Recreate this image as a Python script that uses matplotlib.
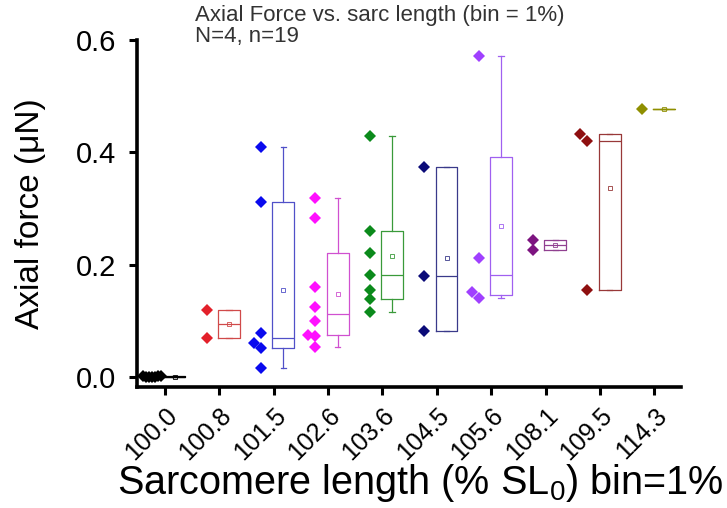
import numpy as np
import matplotlib
matplotlib.use("Agg")
import matplotlib.pyplot as plt

# =========================
# DATA
# =========================

categories = ["100.0", "100.8", "101.5", "102.6", "103.6",
              "104.5", "105.6", "108.1", "109.5", "114.3"]

force_100_0 = [0.0, 0.0, 0.001, 0.0, 0.002, 0.0, 0.001]
force_100_8 = [0.119, 0.069]
force_101_5 = [0.410, 0.311, 0.078, 0.060, 0.052, 0.016]
force_102_6 = [0.318, 0.283, 0.160, 0.125, 0.100, 0.075, 0.073, 0.053]
force_103_6 = [0.429, 0.260, 0.221, 0.182, 0.155, 0.139, 0.116]
force_104_5 = [0.374, 0.179, 0.081]
force_105_6 = [0.571, 0.212, 0.151, 0.141]
force_108_1 = [0.244, 0.226]
force_109_5 = [0.432, 0.420, 0.155]
force_114_3 = [0.477]

groups = [force_100_0, force_100_8, force_101_5, force_102_6, force_103_6,
          force_104_5, force_105_6, force_108_1, force_109_5, force_114_3]

point_colors = ["#000000", "#e3202a", "#0a0aee", "#ff10ff", "#0b8a1b",
                "#0b0b78", "#a040ff", "#7d1480", "#8e0f10", "#8f8f00"]
box_colors = ["#000000", "#d04a4a", "#5050c8", "#d050d0", "#3a9a3a",
              "#3a3a8a", "#a060f0", "#904090", "#983838", "#8f8f00"]

# =========================
# HELPERS
# =========================

def half_median_stats(vals):
    # median, hinges = medians of the lower / upper halves (median excluded)
    v = np.sort(np.asarray(vals, dtype=float))
    n = len(v)
    med = np.median(v)
    if n == 1:
        q1 = q3 = v[0]
    else:
        h = n // 2
        q1 = np.median(v[:h])
        q3 = np.median(v[n - h:])
    return dict(med=med, q1=q1, q3=q3, whislo=v[0], whishi=v[-1],
                mean=v.mean(), fliers=[])


def swarm_offsets(vals, step=0.13, ythr=0.015, max_half=0.17):
    order = np.argsort(vals)
    placed = []
    offs = np.zeros(len(vals))
    cand = [0.0]
    for k in range(1, 12):
        cand += [-k * step, k * step]
    for idx in order:
        y = vals[idx]
        for c in cand:
            if all(abs(c - px) >= step * 0.99 or abs(y - py) >= ythr
                   for px, py in placed):
                offs[idx] = c
                placed.append((c, y))
                break
    m = np.abs(offs).max()
    if m > max_half:
        offs = offs * max_half / m
    return offs


# =========================
# FIGURE
# =========================

plt.rcParams["font.family"] = ["Liberation Sans", "DejaVu Sans"]

fig = plt.figure(figsize=(7.27, 5.08), dpi=100)
ax = fig.add_axes([0.1884, 0.2382, 0.7483, 0.6831])

x_pos = np.arange(len(categories))
pt_shift = -0.23
box_shift = 0.18

for i, vals in enumerate(groups):
    vals = np.asarray(vals, dtype=float)
    offs = swarm_offsets(vals)
    ax.plot(x_pos[i] + pt_shift + offs, vals, linestyle="none", marker="D",
            markersize=6.5, color=point_colors[i], markeredgewidth=0,
            zorder=3)

    st = half_median_stats(vals)
    c = box_colors[i]
    ax.bxp([st], positions=[x_pos[i] + box_shift], widths=0.4,
           showmeans=True, showfliers=False, capwidths=0.1,
           boxprops=dict(color=c, linewidth=0.9),
           medianprops=dict(color=c, linewidth=0.9),
           whiskerprops=dict(color=c, linewidth=0.9),
           capprops=dict(color=c, linewidth=0.9),
           meanprops=dict(marker="s", markersize=3.2, markerfacecolor="none",
                          markeredgecolor=c, markeredgewidth=0.6),
           manage_ticks=False, zorder=2)

ax.set_xlim(-0.51, 9.49)
ax.set_ylim(-0.0178, 0.6)
ax.set_yticks([0.0, 0.2, 0.4, 0.6])
ax.set_yticklabels(["0.0", "0.2", "0.4", "0.6"])
ax.set_xticks(x_pos)
ax.set_xticklabels(categories, rotation=45, ha="right",
                   rotation_mode="anchor")

for side in ["top", "right"]:
    ax.spines[side].set_visible(False)
for side in ["left", "bottom"]:
    ax.spines[side].set_linewidth(2.6)

ax.tick_params(axis="both", which="major", length=6, width=2.2, pad=4)
ax.tick_params(axis="y", labelsize=21, pad=9)
ax.tick_params(axis="x", labelsize=18, pad=6)

ax.set_ylabel("Axial force (μN)", fontsize=24)
ax.yaxis.set_label_coords(-0.168, 0.5)

fig.text(420 / 727, 1 - 483 / 508,
         r"Sarcomere length (% SL$_{\mathregular{0}}$) bin=1%",
         fontsize=28.5, ha="center", va="center")

fig.text(195 / 727, 1 - 5 / 508,
         "Axial Force vs. sarc length (bin = 1%)\nN=4, n=19",
         fontsize=16, ha="left", va="top", color="#333333",
         linespacing=1.0)

plt.savefig("out.png", dpi=100)
